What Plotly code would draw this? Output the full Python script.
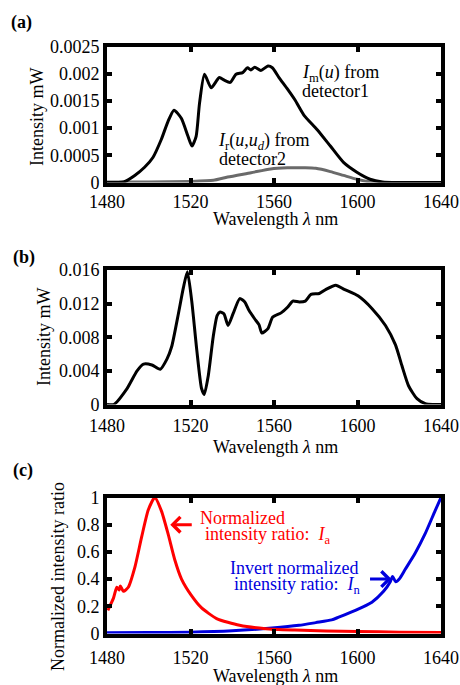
import plotly.graph_objects as go

# ---------------- data ----------------
x_ticks = [1480, 1520, 1560, 1600, 1640]
x_tick_labels = ["1480", "1520", "1560", "1600", "1640"]

# (a) Im(u) from detector1
wl_a_m = [1480, 1485, 1488, 1493.3, 1498, 1502, 1506, 1509.2, 1512.1, 1515.6, 1518.8,
          1520.7, 1522.7, 1524.3, 1526.7, 1529.9, 1533.8, 1536.2, 1539, 1541.8, 1545,
          1547.3, 1548.9, 1550.8, 1553.7, 1557.1, 1559.2, 1562.4, 1566.4, 1570, 1574.3,
          1580.7, 1587, 1593.3, 1599.7, 1606, 1612, 1620, 1640]
im_a = [0, 0, 0.00001, 0.00013, 0.00028, 0.00046, 0.00079, 0.00112, 0.00133, 0.00118, 0.00085,
        0.00067, 0.00085, 0.00145, 0.00199, 0.00174, 0.00193, 0.00188, 0.00184, 0.00199, 0.00202,
        0.00211, 0.00207, 0.00212, 0.00206, 0.00214, 0.00211, 0.00193, 0.00172, 0.00152, 0.00124,
        0.00097, 0.00067, 0.00037, 0.00019, 0.00006, 0.00001, 0, 0]
# (a) Ir(u,ud) from detector2
wl_a_r = [1480, 1500, 1520, 1531, 1537.8, 1549, 1558.4, 1566.4, 1575, 1580, 1587, 1593.3,
          1599.7, 1606, 1612, 1640]
ir_a = [0.00001, 0.00001, 0.00002, 0.00004, 0.0001, 0.00018, 0.00025, 0.00027, 0.00027,
        0.00026, 0.0002, 0.00013, 0.00006, 0.00001, 0, 0]
y_ticks_a = [0, 0.0005, 0.001, 0.0015, 0.002, 0.0025]
y_labels_a = ["0", "0.0005", "0.001", "0.0015", "0.002", "0.0025"]

# (b)
wl_b = [1480, 1483.2, 1489.6, 1494.4, 1497.5, 1501.5, 1505.5, 1508.7, 1511, 1514.2, 1516.6,
        1518.5, 1520.6, 1523, 1525.3, 1526.6, 1528.5, 1530.9, 1532.8, 1534.2, 1536, 1538,
        1540.4, 1543.6, 1546, 1548, 1550.7, 1552.8, 1554.2, 1557, 1559.4, 1563.4, 1566.6,
        1569, 1572.1, 1575, 1577.7, 1581.7, 1584.9, 1589.6, 1593.6, 1600.4, 1607, 1613.4,
        1618.2, 1621.3, 1624.5, 1628.5, 1632.5, 1636, 1640]
i_b = [0, 0, 0.0019, 0.004, 0.0048, 0.0047, 0.0042, 0.0054, 0.0069, 0.0108, 0.0139,
       0.0158, 0.0123, 0.0065, 0.0019, 0.0012, 0.0034, 0.0081, 0.0106, 0.011, 0.0108, 0.0094,
       0.0108, 0.0126, 0.0122, 0.0112, 0.0102, 0.0095, 0.0085, 0.009, 0.0104, 0.0109, 0.0116,
       0.0123, 0.0122, 0.0123, 0.0131, 0.0132, 0.0137, 0.0142, 0.0137, 0.0129, 0.0114, 0.0094,
       0.0071, 0.0046, 0.0022, 0.0007, 0.0001, 0, 0]
y_ticks_b = [0, 0.004, 0.008, 0.012, 0.016]
y_labels_b = ["0", "0.004", "0.008", "0.012", "0.016"]

# (c) normalized intensity ratio Ia (red)
wl_c_a = [1480.4, 1483.1, 1484.7, 1485.8, 1486.4, 1487.9, 1490.2, 1493.4, 1496.6, 1499.8,
          1502.9, 1506.1, 1509.3, 1512.5, 1515.7, 1520.4, 1525.2, 1532.5, 1543.5, 1556,
          1570, 1585, 1600, 1620, 1640]
ia_c = [0.17, 0.26, 0.34, 0.32, 0.35, 0.31, 0.34, 0.49, 0.71, 0.91,
        1.0, 0.9, 0.73, 0.54, 0.40, 0.28, 0.19, 0.11, 0.06, 0.035,
        0.025, 0.018, 0.015, 0.01, 0.008]
# (c) invert normalized intensity ratio In (blue)
wl_c_n = [1480, 1500, 1520, 1540, 1559, 1572, 1580, 1587.6, 1591, 1599, 1606.9, 1612.5,
          1615.7, 1616.8, 1618.3, 1620, 1622.8, 1627.6, 1632.3, 1637.1, 1640]
in_c = [0.005, 0.007, 0.01, 0.02, 0.04, 0.06, 0.08, 0.1, 0.12, 0.17, 0.23, 0.31,
        0.38, 0.42, 0.38, 0.40, 0.47, 0.59, 0.73, 0.9, 1.0]
y_ticks_c = [0, 0.2, 0.4, 0.6, 0.8, 1]
y_labels_c = ["0", "0.2", "0.4", "0.6", "0.8", "1"]

# ---------------- figure ----------------
W, H = 460, 685
FONT = "'Liberation Serif', 'Times New Roman', Times, 'DejaVu Serif', serif"
FS = 18

def px(x):
    return x / W

def py(y):
    return 1 - y / H

fig = go.Figure()

line_kw = dict(shape="spline", smoothing=0.6)
fig.add_trace(go.Scatter(x=wl_a_r, y=ir_a, mode="lines", xaxis="x", yaxis="y",
                         line=dict(color="#6a6a6a", width=3, **line_kw), showlegend=False))
fig.add_trace(go.Scatter(x=wl_a_m, y=im_a, mode="lines", xaxis="x", yaxis="y",
                         line=dict(color="black", width=3, **line_kw), showlegend=False))
fig.add_trace(go.Scatter(x=wl_b, y=i_b, mode="lines", xaxis="x2", yaxis="y2",
                         line=dict(color="black", width=3, **line_kw), showlegend=False))
fig.add_trace(go.Scatter(x=wl_c_n, y=in_c, mode="lines", xaxis="x3", yaxis="y3",
                         line=dict(color="#0000dd", width=3, **line_kw), showlegend=False))
fig.add_trace(go.Scatter(x=wl_c_a, y=ia_c, mode="lines", xaxis="x3", yaxis="y3",
                         line=dict(color="#ff0000", width=3, **line_kw), showlegend=False))

xdom = [px(107), px(441)]
ydoms = {
    "a": [py(182.5), py(46.5)],
    "b": [py(404.5), py(270)],
    "c": [py(633.5), py(497.5)],
}

def xaxis(anchor, standoff):
    return dict(domain=xdom, anchor=anchor, range=[1480, 1640], tickvals=x_ticks,
                ticktext=x_tick_labels, ticks="inside", ticklen=5, tickwidth=3.5,
                tickcolor="black", showline=True, linewidth=4, linecolor="black",
                mirror="ticks", showgrid=False, zeroline=False, automargin=False,
                tickfont=dict(family=FONT, size=FS, color="black"),
                ticklabelstandoff=standoff)

def yaxis(anchor, dom, rng, vals, labels):
    return dict(domain=dom, anchor=anchor, range=rng, tickvals=vals, ticktext=labels,
                ticks="inside", ticklen=5, tickwidth=3.5, tickcolor="black",
                showline=True, linewidth=4, linecolor="black", mirror="ticks",
                showgrid=False, zeroline=False, automargin=False,
                tickfont=dict(family=FONT, size=FS, color="black"))

fig.update_layout(
    width=W, height=H, margin=dict(l=0, r=0, t=0, b=0, autoexpand=False),
    paper_bgcolor="white", plot_bgcolor="white",
    font=dict(family=FONT, size=FS, color="black"),
    xaxis=xaxis("y", 0),
    yaxis=yaxis("x", ydoms["a"], [0, 0.0025], y_ticks_a, y_labels_a),
    xaxis2=xaxis("y2", 2),
    yaxis2=yaxis("x2", ydoms["b"], [0, 0.016], y_ticks_b, y_labels_b),
    xaxis3=xaxis("y3", 5),
    yaxis3=yaxis("x3", ydoms["c"], [0, 1], y_ticks_c, y_labels_c),
)

ann = []
def text(x, y, s, xanchor="center", color="black", angle=0, size=FS):
    ann.append(dict(x=px(x), y=py(y), xref="paper", yref="paper", text=s, showarrow=False,
                    xanchor=xanchor, yanchor="middle", textangle=angle,
                    font=dict(family=FONT, size=size, color=color)))

# panel labels
text(9, 22, "<b>(a)</b>", "left")
text(11, 257, "<b>(b)</b>", "left")
text(11, 470, "<b>(c)</b>", "left")

# axis titles
text(37, 117, "Intensity mW", angle=-90)
text(44, 337, "Intensity mW", angle=-90)
text(58, 577, "Normalized intensity ratio", angle=-90)
text(275, 219, "Wavelength <i>λ</i> nm")
text(275, 447, "Wavelength <i>λ</i> nm")
text(275, 676, "Wavelength <i>λ</i> nm")

# panel (a) labels
text(300, 73, "<i>I</i><sub>m</sub>(<i>u</i>) from", "left")
text(300, 91, "detector1", "left")
text(216, 141, "<i>I</i><sub>r</sub>(<i>u</i>,<i>u</i><sub><i>d</i></sub>) from", "left")
text(217, 159, "detector2", "left")

# panel (c) labels
RED = "#ff0000"
BLUE = "#0000dd"
text(198, 518, "Normalized", "left", RED)
text(203, 535, "intensity ratio:  <i>I</i><sub>a</sub>", "left", RED)
text(360, 568, "Invert normalized", "right", BLUE)
text(362, 585, "intensity ratio:  <i>I</i><sub>n</sub>", "right", BLUE)

# arrows in (c)
ann.append(dict(x=1510.3, y=0.8, xref="x3", yref="y3", ax=23, ay=0, showarrow=True,
                arrowhead=4, arrowsize=1, arrowwidth=3, arrowcolor=RED, text=""))
ann.append(dict(x=1616.3, y=0.4, xref="x3", yref="y3", ax=-23, ay=0, showarrow=True,
                arrowhead=4, arrowsize=1, arrowwidth=3, arrowcolor=BLUE, text=""))

fig.update_layout(annotations=ann)
fig.write_html("out.html", config={"displayModeBar": False},
               post_script="document.body.style.margin='0';"
                           "document.documentElement.style.overflow='hidden';")
